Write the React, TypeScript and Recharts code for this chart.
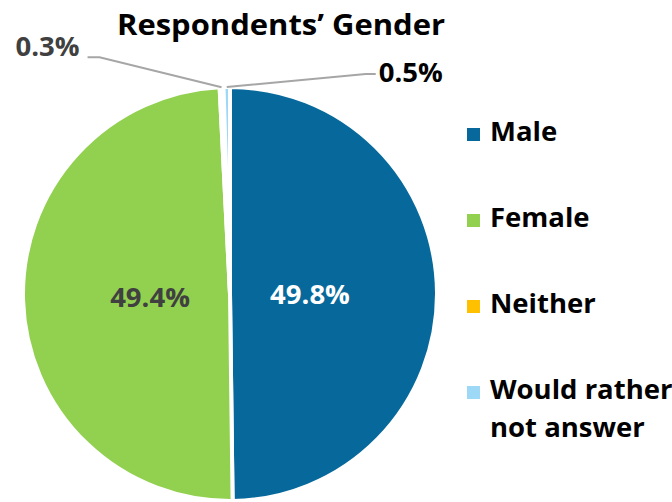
import React from "react";
import { PieChart, Pie, Cell, Legend } from "recharts";

const categories = ["Male", "Female", "Neither", "Would rather not answer"];
const shares = [49.8, 49.4, 0.3, 0.5];
const colors = ["#07699b", "#92d050", "#ffc000", "#9dd8f6"];
const labelColors = ["#ffffff", "#404040", "#404040", "#000000"];
const title = "Respondents’ Gender";

const data = categories.map((name, i) => ({ name, value: shares[i] }));

const FONT = "'Open Sans', 'Liberation Sans', sans-serif";
const RAD = Math.PI / 180;

const polar = (cx: number, cy: number, r: number, angle: number) => ({
  x: cx + r * Math.cos(-angle * RAD),
  y: cy + r * Math.sin(-angle * RAD),
});

const renderLabel = (props: any) => {
  const { cx, cy, midAngle, outerRadius, index, value } = props;
  const text = `${value.toFixed(1)}%`;
  if (index < 2) {
    const p = polar(cx, cy, 80, midAngle);
    return (
      <text
        x={p.x}
        y={p.y}
        fill={labelColors[index]}
        textAnchor="middle"
        dominantBaseline="central"
        style={{ fontFamily: FONT, fontWeight: 700, fontSize: 27.5 }}
      >
        {text}
      </text>
    );
  }
  const a = polar(cx, cy, outerRadius, midAngle);
  const left = index === 2;
  const elbow = left ? { x: a.x - 122, y: a.y - 30 } : { x: a.x + 139, y: a.y - 13 };
  const end = left ? { x: elbow.x - 12, y: elbow.y } : { x: elbow.x + 10, y: elbow.y };
  return (
    <g>
      <polyline
        points={`${a.x},${a.y} ${elbow.x},${elbow.y} ${end.x},${end.y}`}
        fill="none"
        stroke="#a6a6a6"
        strokeWidth={2}
      />
      <text
        x={left ? end.x - 8 : end.x + 3}
        y={left ? end.y - 12 : end.y - 3}
        fill={labelColors[index]}
        textAnchor={left ? "end" : "start"}
        dominantBaseline="central"
        style={{ fontFamily: FONT, fontWeight: 700, fontSize: 27.5 }}
      >
        {text}
      </text>
    </g>
  );
};

const splitName = (name: string) => {
  const words = name.split(" ");
  return words.length > 2
    ? [words.slice(0, 2).join(" "), words.slice(2).join(" ")]
    : [name];
};

const renderLegend = () => (
  <div style={{ fontFamily: FONT, fontWeight: 700, fontSize: 27.5, color: "#000" }}>
    {categories.map((name, i) => (
      <div key={name} style={{ display: "flex", alignItems: "flex-start", height: 86 }}>
        <div
          style={{
            width: 13,
            height: 13,
            background: colors[i],
            marginTop: 10,
            marginRight: 10,
            flex: "none",
          }}
        />
        <div style={{ lineHeight: "38px", marginTop: -6, whiteSpace: "nowrap" }}>
          {splitName(name).map((line) => (
            <div key={line}>{line}</div>
          ))}
        </div>
      </div>
    ))}
  </div>
);

export default function App() {
  return (
    <div
      style={{
        position: "fixed",
        left: 0,
        top: 0,
        width: 672,
        height: 502,
        overflow: "hidden",
        background: "#fff",
      }}
    >
      <PieChart width={672} height={502} margin={{ top: 0, right: 0, bottom: 0, left: 0 }}>
        <Pie
          data={data}
          dataKey="value"
          nameKey="name"
          cx={230}
          cy={294}
          outerRadius={207}
          startAngle={90}
          endAngle={-270}
          stroke="#ffffff"
          strokeWidth={4}
          label={renderLabel}
          labelLine={false}
          isAnimationActive={false}
        >
          {data.map((d, i) => (
            <Cell key={d.name} fill={colors[i]} />
          ))}
        </Pie>
        <Legend
          layout="vertical"
          content={renderLegend}
          wrapperStyle={{ position: "absolute", left: 467, top: 118, width: 205 }}
        />
      </PieChart>
      <svg
        width={672}
        height={60}
        style={{ position: "absolute", left: 0, top: 0, pointerEvents: "none" }}
      >
        <text
          x={281}
          y={35}
          textAnchor="middle"
          textLength={328}
          lengthAdjust="spacingAndGlyphs"
          style={{ fontFamily: FONT, fontWeight: 700, fontSize: 28.5, fill: "#000" }}
        >
          {title}
        </text>
      </svg>
    </div>
  );
}
